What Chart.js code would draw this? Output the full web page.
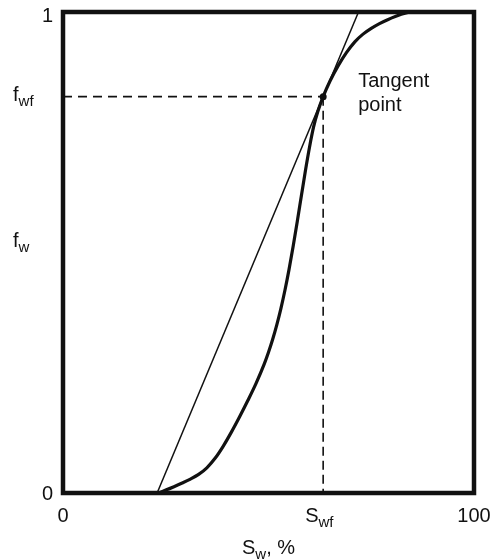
<!DOCTYPE html>
<html>
<head>
<meta charset="utf-8">
<script src="https://cdn.jsdelivr.net/npm/chart.js@4.4.1/dist/chart.umd.min.js"></script>
<style>
  html, body { margin: 0; padding: 0; background: #fff; }
  #wrap { width: 491px; height: 559px; position: relative; }
</style>
</head>
<body>
<div id="wrap"><canvas id="c"></canvas></div>
<script>
// Fractional flow curve f_w vs S_w (%)
const swCurve = [0, 22.9, 25, 27, 29, 31, 33, 35, 37, 39, 41, 43, 45, 47, 49, 50, 51, 52, 53, 54, 55, 56, 57, 58, 59, 60, 61, 62, 63.3, 65, 67, 69, 71, 73, 75, 77, 79, 81, 83, 85, 100];
const fwCurve = [0, 0, 0.0063, 0.0132, 0.0207, 0.0289, 0.0387, 0.0524, 0.0721, 0.0976, 0.1271, 0.1591, 0.1928, 0.2285, 0.269, 0.2925, 0.319, 0.349, 0.383, 0.4215, 0.465, 0.513, 0.5645, 0.618, 0.671, 0.720, 0.762, 0.793, 0.824, 0.857, 0.889, 0.916, 0.938, 0.954, 0.966, 0.976, 0.984, 0.991, 0.997, 1.0, 1.0];
// Tangent line from the initial saturation through the tangent point
const tangentSw = [22.9, 71.9];
const tangentFw = [0, 1];
// Tangent point (front saturation, front fractional flow)
const swf = 63.3;
const fwf = 0.824;
// Tick labels
const xTickValues = [0, swf, 100];
const xTickLabels = [['0', ''], ['S', 'wf'], ['100', '']];
const yTickValues = [0, fwf, 1];
const yTickLabels = [['0', ''], ['f', 'wf'], ['1', '']];
const xTitle = ['S', 'w', ', %'];
const yTitle = ['f', 'w'];
const noteLines = ['Tangent', 'point'];

const zip = (xs, ys) => xs.map((x, i) => ({ x: x, y: ys[i] }));
const FONT = '"Liberation Sans", Arial, Helvetica, sans-serif';
const INK = '#111';

function drawSub(ctx, parts, x, y, align) {
  const main = parts[0] || '', sub = parts[1] || '', tail = parts[2] || '';
  const mainFont = '20px ' + FONT, subFont = '15px ' + FONT;
  ctx.font = mainFont; const wm = ctx.measureText(main).width; const wt = ctx.measureText(tail).width;
  ctx.font = subFont; const ws = ctx.measureText(sub).width;
  const total = wm + ws + wt;
  let x0 = x;
  if (align === 'center') x0 = x - total / 2;
  else if (align === 'right') x0 = x - total;
  ctx.textAlign = 'left';
  ctx.textBaseline = 'alphabetic';
  ctx.fillStyle = INK;
  ctx.font = mainFont; ctx.fillText(main, x0, y);
  ctx.font = subFont; ctx.fillText(sub, x0 + wm, y + 5);
  ctx.font = mainFont; ctx.fillText(tail, x0 + wm + ws, y);
}

const decor = {
  id: 'decor',
  afterDatasetsDraw(chart) {
    const ctx = chart.ctx, a = chart.chartArea;
    ctx.save();
    ctx.strokeStyle = INK;
    ctx.lineWidth = 4.5;
    ctx.lineJoin = 'miter';
    ctx.strokeRect(a.left, a.top, a.right - a.left, a.bottom - a.top);
    ctx.restore();
  },
  afterDraw(chart) {
    const ctx = chart.ctx;
    const xs = chart.scales.x, ys = chart.scales.y;
    ctx.save();
    yTickValues.forEach((v, i) => {
      const py = ys.getPixelForValue(v);
      const lab = yTickLabels[i];
      if (lab[1]) {
        drawSub(ctx, lab, 13, py + 4, 'left');
      } else {
        const yy = (v === 1) ? py + 10 : py + 7;
        drawSub(ctx, lab, 53, yy, 'right');
      }
    });
    drawSub(ctx, yTitle, 13, ys.getPixelForValue(0.512), 'left');
    xTickValues.forEach((v, i) => {
      const px = xs.getPixelForValue(v);
      const lab = xTickLabels[i];
      if (lab[1]) drawSub(ctx, lab, px - 18, ys.getPixelForValue(0) + 29, 'left');
      else drawSub(ctx, lab, px, ys.getPixelForValue(0) + 29, 'center');
    });
    drawSub(ctx, xTitle, (xs.left + xs.right) / 2, ys.getPixelForValue(0) + 61, 'center');
    const tx = xs.getPixelForValue(swf) + 35, ty = ys.getPixelForValue(fwf);
    ctx.font = '20px ' + FONT; ctx.fillStyle = INK; ctx.textAlign = 'left'; ctx.textBaseline = 'alphabetic';
    ctx.fillText(noteLines[0], tx, ty - 10);
    ctx.fillText(noteLines[1], tx, ty + 14);
    ctx.restore();
  }
};

new Chart(document.getElementById('c'), {
  type: 'scatter',
  data: {
    datasets: [
      { data: zip([0, swf], [fwf, fwf]), showLine: true, borderColor: INK, borderWidth: 1.6, borderDash: [9, 6], pointRadius: 0, fill: false },
      { data: zip([swf, swf], [fwf, 0]), showLine: true, borderColor: INK, borderWidth: 1.6, borderDash: [9, 5], pointRadius: 0, fill: false },
      { data: zip(tangentSw, tangentFw), showLine: true, borderColor: INK, borderWidth: 1.5, pointRadius: 0, fill: false },
      { data: zip(swCurve, fwCurve), showLine: true, borderColor: INK, borderWidth: 3.2, cubicInterpolationMode: 'monotone', pointRadius: 0, fill: false },
      { data: [{ x: swf, y: fwf }], showLine: false, pointRadius: 3.5, pointBackgroundColor: INK, pointBorderColor: INK, pointBorderWidth: 0 }
    ]
  },
  options: {
    responsive: true,
    maintainAspectRatio: false,
    animation: false,
    events: [],
    layout: { padding: { left: 63, right: 17, top: 12, bottom: 66 } },
    plugins: { legend: { display: false }, tooltip: { enabled: false } },
    scales: {
      x: { type: 'linear', min: 0, max: 100, display: false },
      y: { type: 'linear', min: 0, max: 1, display: false }
    }
  },
  plugins: [decor]
});
</script>
</body>
</html>
